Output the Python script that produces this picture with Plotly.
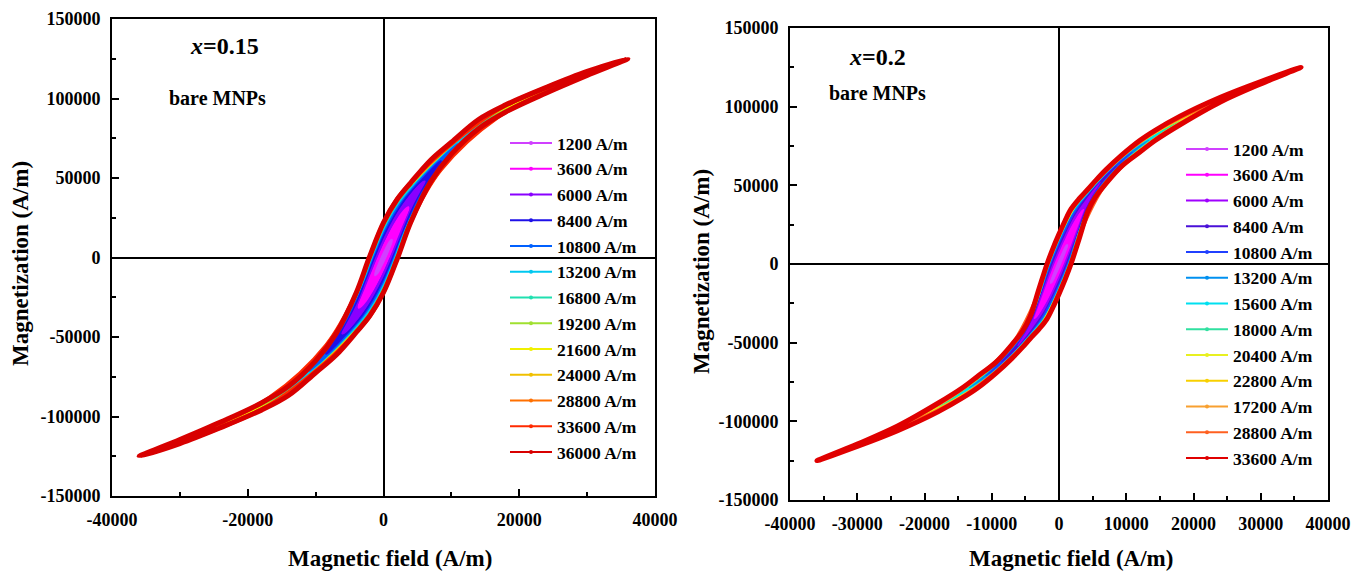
import plotly.graph_objects as go

# ---------------- data ----------------
# Left panel: x = 0.15, bare MNPs
left_labels = ["1200 A/m", "3600 A/m", "6000 A/m", "8400 A/m", "10800 A/m", "13200 A/m",
               "16800 A/m", "19200 A/m", "21600 A/m", "24000 A/m", "28800 A/m", "33600 A/m",
               "36000 A/m"]
# upper (descending-field) branch of each loop: field H (A/m) and magnetization M (A/m)
left_loop_H = [
    [1200, 900, 600, 300, 0, -220, -600, -900, -1200],
    [3600, 2700, 1800, 900, 0, -710, -1800, -2700, -3600],
    [6000, 4500, 3000, 1500, 0, -1140, -2000, -3000, -4500, -6000],
    [8400, 6300, 4200, 2100, 0, -1450, -2800, -4200, -6300, -8400],
    [10800, 8100, 5400, 2700, 0, -1670, -2700, -5400, -8100, -10800],
    [13200, 9900, 6600, 3300, 1650, 0, -1810, -3300, -6600, -9900, -13200],
    [16800, 12600, 8400, 4200, 2100, 0, -1920, -4200, -8400, -12600, -16800],
    [19200, 14400, 9600, 4800, 2400, 0, -1970, -2400, -4800, -9600, -14400, -19200],
    [21600, 16200, 10800, 5400, 2700, 0, -2000, -2700, -5400, -10800, -16200, -21600],
    [24000, 18000, 12000, 6000, 3000, 2000, 0, -2030, -3000, -6000, -12000, -18000, -24000],
    [28800, 21600, 14400, 7200, 3600, 2000, 0, -2060, -3600, -7200, -14400, -21600, -28800],
    [33600, 25200, 16800, 8400, 4200, 2000, 0, -2080, -4200, -8400, -16800, -25200, -33600],
    [36000, 30000, 24000, 18000, 14000, 10000, 7000, 4000, 2000, 0, -2100, -4000, -7000,
     -10000, -14000, -18000, -24000, -30000, -36000],
]
left_loop_M = [
    [10800, 9400, 7100, 4600, 2000, 0, -3700, -6800, -10800],
    [31400, 27300, 21300, 14300, 6600, 0, -11100, -20500, -31400],
    [47600, 41600, 33200, 23300, 11000, 0, -9000, -19600, -34200, -47600],
    [60300, 52800, 42800, 30700, 14300, 0, -14500, -29200, -46000, -60300],
    [71100, 61700, 49900, 36400, 16700, 0, -11400, -37500, -55900, -71100],
    [80400, 69800, 56600, 40900, 31400, 18500, 0, -16900, -45600, -65200, -80400],
    [90500, 80100, 64600, 46500, 35600, 19800, 0, -25500, -56000, -76100, -90500],
    [95900, 86300, 69500, 49400, 37800, 20500, 0, -4950, -30400, -62500, -82700, -95900],
    [100700, 90700, 74200, 52300, 39900, 20900, 0, -7850, -35100, -68000, -87300, -100700],
    [105500, 95100, 78700, 55300, 41600, 36400, 21300, 0, -11150, -39900, -72900, -91900, -105500],
    [113900, 102300, 87000, 61000, 44900, 36700, 21700, 0, -17850, -48000, -82000, -99100, -113900],
    [121400, 109000, 92800, 65600, 47800, 36900, 21900, 0, -24200, -55000, -88200, -106200, -121400],
    [125000, 117000, 107000, 96000, 86800, 72500, 61500, 47000, 36500, 22000, 0, -22000, -48000,
     -65000, -81000, -91500, -103500, -114500, -125000],
]

# Right panel: x = 0.2, bare MNPs
right_labels = ["1200 A/m", "3600 A/m", "6000 A/m", "8400 A/m", "10800 A/m", "13200 A/m",
                "15600 A/m", "18000 A/m", "20400 A/m", "22800 A/m", "17200 A/m", "28800 A/m",
                "33600 A/m"]
right_loop_H = [
    [1200, 900, 600, 300, 0, -175, -600, -900, -1200],
    [3600, 2700, 1800, 900, 0, -580, -1800, -2700, -3600],
    [6000, 4500, 3000, 1500, 0, -940, -2000, -3000, -4500, -6000],
    [8400, 6300, 4200, 2100, 0, -1200, -2800, -4200, -6300, -8400],
    [10800, 8100, 5400, 2700, 0, -1400, -2700, -5400, -8100, -10800],
    [13200, 9900, 6600, 3300, 1650, 0, -1520, -3300, -6600, -9900, -13200],
    [15600, 11700, 7800, 3900, 1950, 0, -1590, -1950, -3900, -7800, -11700, -15600],
    [18000, 13500, 9000, 4500, 2250, 0, -1640, -2250, -4500, -9000, -13500, -18000],
    [20400, 15300, 10200, 5100, 2550, 0, -1670, -2550, -5100, -10200, -15300, -20400],
    [22800, 17100, 11400, 5700, 2850, 1800, 0, -1700, -2850, -5700, -11400, -17100, -22800],
    [25200, 18900, 12600, 6300, 3150, 1800, 0, -1720, -3150, -6300, -12600, -18900, -25200],
    [28800, 21600, 14400, 7200, 3600, 1800, 0, -1750, -3600, -7200, -14400, -21600, -28800],
    [36000, 30000, 24000, 18000, 14300, 12000, 9400, 7000, 5400, 4300, 3000, 1800, 900, 0,
     -900, -1780, -3000, -4300, -5400, -7000, -9400, -12000, -14300, -18000, -24000, -30000, -36000],
]
right_loop_M = [
    [11750, 9900, 7400, 4600, 1700, 0, -4400, -7700, -11750],
    [34100, 28800, 22200, 14200, 5700, 0, -13200, -23200, -34100],
    [51300, 44000, 34300, 23400, 9500, 0, -11700, -23300, -39600, -51300],
    [61600, 54600, 43600, 30900, 12350, 0, -18600, -35200, -50600, -61600],
    [70500, 62300, 51000, 36400, 14450, 0, -15600, -44300, -58300, -70500],
    [78500, 69600, 57200, 40700, 30850, 15950, 0, -22300, -50500, -65600, -78500],
    [84900, 75800, 62100, 44000, 33900, 16700, 0, -4300, -29500, -56000, -71600, -84900],
    [91250, 81400, 67100, 47600, 36300, 17300, 0, -7500, -36000, -61500, -77400, -91250],
    [96550, 86100, 71500, 50700, 38300, 17700, 0, -11000, -40700, -65700, -82300, -96550],
    [101850, 90400, 75600, 54100, 40000, 34100, 18050, 0, -14800, -44900, -69600, -86800, -101850],
    [106650, 94800, 79300, 57000, 41700, 34400, 18400, 0, -18600, -48200, -73500, -91600, -106650],
    [113100, 100500, 84800, 60600, 43800, 34700, 18700, 0, -24400, -52400, -79200, -97900, -113100],
    [125000, 116000, 106000, 94000, 85000, 78500, 69500, 60000, 52800, 47500, 41500, 35000, 27500,
     19000, 9900, 0, -16100, -33500, -42500, -51200, -62500, -71000, -78500, -88500, -103000,
     -114500, -125000],
]

# tick values / labels
left_xticks = [-40000, -20000, 0, 20000, 40000]
left_xtick_labels = ["-40000", "-20000", "0", "20000", "40000"]
right_xticks = [-40000, -30000, -20000, -10000, 0, 10000, 20000, 30000, 40000]
right_xtick_labels = ["-40000", "-30000", "-20000", "-10000", "0", "10000", "20000", "30000", "40000"]
yticks = [-150000, -100000, -50000, 0, 50000, 100000, 150000]
ytick_labels = ["-150000", "-100000", "-50000", "0", "50000", "100000", "150000"]

# ---------------- styles ----------------
left_colors = ["#d040ff", "#ff00ff", "#8a00ff", "#1e10e8", "#0060ff", "#00c8f0", "#20e0b0",
               "#a0e030", "#f0f000", "#f0c000", "#ff7000", "#ff2a00", "#d80000"]
right_colors = ["#d040ff", "#ff00ff", "#a000ff", "#4a10d8", "#2040ff", "#0090f0", "#00e0f0",
                "#30e0a0", "#e8f020", "#f8d000", "#f8a030", "#ff6020", "#e00000"]

# the page body adds an 8 px margin around the figure, so the figure is 8 px smaller
OFF = 8
W, H = 1368 - OFF, 574 - OFF
FONT = "Liberation Serif"


def fx(p):
    return (p - OFF) / W


def fy(p):
    return 1 - (p - OFF) / H


fig = go.Figure()

panels = [
    dict(labels=left_labels, colors=left_colors, Hs=left_loop_H, Ms=left_loop_M,
         xa="x", ya="y", legend="legend"),
    dict(labels=right_labels, colors=right_colors, Hs=right_loop_H, Ms=right_loop_M,
         xa="x2", ya="y2", legend="legend2"),
]


def closed_loop(hs, ms):
    xs = hs + [-h for h in hs[1:]]
    ys = ms + [-m for m in ms[1:]]
    return xs, ys


for p in panels:
    n = len(p["labels"])
    # filled interiors: largest loop first so the smaller loops sit on top
    for i in reversed(range(n)):
        xs, ys = closed_loop(p["Hs"][i], p["Ms"][i])
        col = p["colors"][i]
        fig.add_trace(go.Scatter(
            x=xs, y=ys, mode="lines", fill="toself", fillcolor=col,
            line=dict(color=col, width=0.5, shape="spline", smoothing=1.0),
            xaxis=p["xa"], yaxis=p["ya"], showlegend=False, hoverinfo="skip"))
    # thick loop outlines: smallest first, largest (red) last on top
    for i in range(n):
        xs, ys = closed_loop(p["Hs"][i], p["Ms"][i])
        col = p["colors"][i]
        w = 5.0 if i == n - 1 else (4.0 if i == n - 2 else 3.0)
        fig.add_trace(go.Scatter(
            x=xs, y=ys, mode="lines",
            line=dict(color=col, width=w, shape="spline", smoothing=1.0),
            xaxis=p["xa"], yaxis=p["ya"], showlegend=False, hoverinfo="skip"))
    for i in range(n):
        col = p["colors"][i]
        fig.add_trace(go.Scatter(
            x=[None], y=[None], mode="lines+markers", name=p["labels"][i],
            line=dict(color=col, width=2), marker=dict(color=col, size=4),
            xaxis=p["xa"], yaxis=p["ya"], legend=p["legend"], showlegend=True))

tickfont = dict(family=FONT, size=18, color="black", weight="bold")
common = dict(showline=True, linecolor="black", linewidth=2, mirror=True,
              ticks="inside", ticklen=7, tickwidth=2, tickcolor="black",
              showgrid=False, zeroline=True, zerolinecolor="black", zerolinewidth=2,
              tickfont=tickfont, tickmode="array", ticklabelstandoff=6, automargin=False)


def minor(dt):
    return dict(tickmode="linear", tick0=0, dtick=dt, ticks="inside",
                ticklen=4, tickwidth=1.5, tickcolor="black", showgrid=False)


legend_font = dict(family=FONT, size=17.5, color="black", weight="bold")

fig.update_layout(
    width=W, height=H, autosize=False,
    margin=dict(l=0, r=0, t=0, b=0, autoexpand=False),
    paper_bgcolor="white", plot_bgcolor="white",
    xaxis=dict(domain=[fx(112), fx(655)], range=[-40000, 40000], anchor="y",
               tickvals=left_xticks, ticktext=left_xtick_labels, minor=minor(10000), **common),
    yaxis=dict(domain=[fy(496), fy(19)], range=[-150000, 150000], anchor="x",
               tickvals=yticks, ticktext=ytick_labels, minor=minor(25000), **common),
    xaxis2=dict(domain=[fx(790), fx(1328)], range=[-40000, 40000], anchor="y2",
                tickvals=right_xticks, ticktext=right_xtick_labels, minor=minor(5000), **common),
    yaxis2=dict(domain=[fy(500), fy(28)], range=[-150000, 150000], anchor="x2",
                tickvals=yticks, ticktext=ytick_labels, minor=minor(25000), **common),
    legend=dict(x=fx(505), y=fy(125), xanchor="left", yanchor="top", itemwidth=42,
                bgcolor="rgba(0,0,0,0)", borderwidth=0, tracegroupgap=0, font=legend_font),
    legend2=dict(x=fx(1181), y=fy(131), xanchor="left", yanchor="top", itemwidth=42,
                 bgcolor="rgba(0,0,0,0)", borderwidth=0, tracegroupgap=0, font=legend_font),
    showlegend=True,
)

ann_font_big = dict(family=FONT, size=24, color="black", weight="bold")
ann_font_mid = dict(family=FONT, size=20, color="black", weight="bold")
ann_font_title = dict(family=FONT, size=23, color="black", weight="bold")

annotations = [
    dict(x=fx(225), y=fy(46), text="<i>x</i>=0.15", font=ann_font_big),
    dict(x=fx(217), y=fy(98), text="bare MNPs", font=ann_font_mid),
    dict(x=fx(878), y=fy(57), text="<i>x</i>=0.2", font=ann_font_big),
    dict(x=fx(878), y=fy(93), text="bare MNPs", font=ann_font_mid),
    dict(x=fx(390), y=fy(558), text="Magnetic field (A/m)", font=ann_font_title),
    dict(x=fx(1071), y=fy(558), text="Magnetic field (A/m)", font=ann_font_title),
    dict(x=fx(20), y=fy(264), text="Magnetization (A/m)", font=ann_font_title, textangle=-90),
    dict(x=fx(701), y=fy(272), text="Magnetization (A/m)", font=ann_font_title, textangle=-90),
]
for a in annotations:
    a.update(xref="paper", yref="paper", showarrow=False, xanchor="center", yanchor="middle")
fig.update_layout(annotations=annotations)

fig.write_html("out.html")
